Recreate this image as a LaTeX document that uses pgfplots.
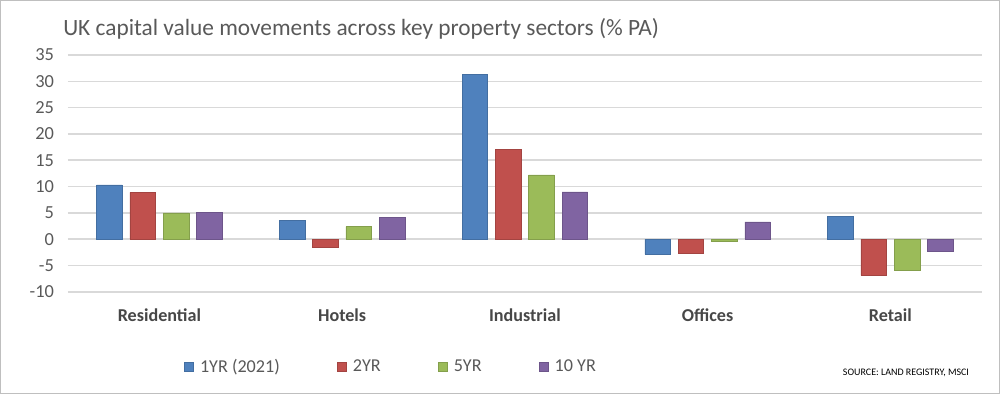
\documentclass[border=0pt]{standalone}
\usepackage{pgfplots}
\pgfplotsset{compat=1.18}
\usepackage{fontspec}
\setmainfont{Carlito}
\definecolor{cblue}{HTML}{4F81BD}
\definecolor{cred}{HTML}{C0504D}
\definecolor{cgreen}{HTML}{9BBB59}
\definecolor{cpurple}{HTML}{8064A2}
\definecolor{txt}{HTML}{595959}
\definecolor{gridc}{HTML}{D9D9D9}
\begin{document}
\begin{tikzpicture}
\begin{axis}[
  at={(0,0)}, anchor=south west,
  scale only axis, width=685.3pt, height=177.5pt,
  xmin=-0.5, xmax=4.5, ymin=-10, ymax=35,
  ytick={-10,-5,0,5,10,15,20,25,30,35},
  xtick={0,1,2,3,4},
  xticklabels={Residential,Hotels,Industrial,Offices,Retail},
  axis line style={draw=none},
  major tick style={draw=none},
  ymajorgrids, grid style={gridc, line width=1.2pt},
  yticklabel style={font=\fontsize{13.8}{15}\selectfont, text=txt, xshift=-7pt},
  xticklabel style={font=\bfseries\fontsize{13.6}{15}\selectfont, text=txt!80!black, yshift=-5pt},
  /pgf/number format/assume math mode=true,
  ybar, bar width=19.2pt,
  legend style={at={(0.127,-0.318)}, anchor=west, draw=none, inner xsep=0pt,
    font=\fontsize{13.6}{15}\selectfont, text=txt, legend columns=4,
    /tikz/every odd column/.append style={column sep=3pt},
    /tikz/every even column/.append style={column sep=41pt}},
  legend image code/.code={\fill[#1] (0pt,-3.2pt) rectangle (6.4pt,3.2pt);},
]
\addplot[fill=cblue, draw=cblue!85!black, bar shift=-37.5pt] coordinates {(0,10.3) (1,3.55) (2,31.3) (3,-2.9) (4,4.4)};
\addplot[fill=cred, draw=cred!85!black, bar shift=-12.5pt] coordinates {(0,8.9) (1,-1.5) (2,17.1) (3,-2.7) (4,-6.9)};
\addplot[fill=cgreen, draw=cgreen!85!black, bar shift=12.5pt] coordinates {(0,5.0) (1,2.4) (2,12.2) (3,-0.4) (4,-5.9)};
\addplot[fill=cpurple, draw=cpurple!85!black, bar shift=37.5pt] coordinates {(0,5.1) (1,4.1) (2,9.0) (3,3.3) (4,-2.3)};
\legend{1YR (2021),2YR,5YR,10 YR}
\end{axis}
\draw[gray!50, line width=0.75pt] (-50.6pt,-76.3pt) rectangle (698.6pt,218.4pt);
\path[use as bounding box] (-51pt,-76.7pt) rectangle (699pt,218.8pt);
\node[anchor=base west, inner sep=0pt, text=txt, font=\fontsize{17.5}{20}\selectfont] at (-3.75pt,192.5pt) {UK capital value movements across key property sectors (\% PA)};
\node[anchor=west, inner sep=0pt, text=black, font=\fontsize{7.5}{9}\selectfont] at (581pt,-60.5pt) {SOURCE: LAND REGISTRY, MSCI};
\end{tikzpicture}
\end{document}
